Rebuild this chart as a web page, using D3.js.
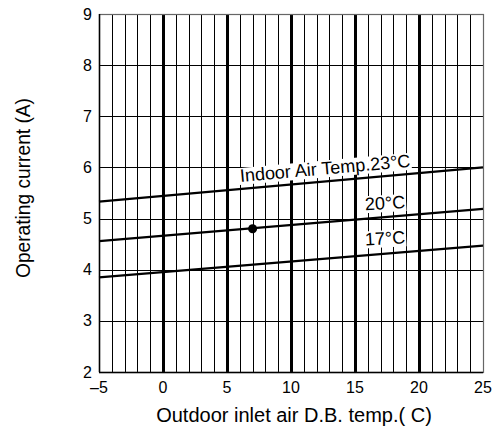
<!DOCTYPE html>
<html>
<head>
<meta charset="utf-8">
<script src="https://cdn.jsdelivr.net/npm/d3@7"></script>
<style>
  body { margin: 0; background: #fff; }
  text { font-family: "Liberation Sans", Arial, sans-serif; fill: #000; }
</style>
</head>
<body>
<svg id="chart" width="497" height="431"></svg>
<script>
// data
const xTicks = [-5, 0, 5, 10, 15, 20, 25];
const xTickLabels = ["\u20135", "0", "5", "10", "15", "20", "25"];
const yTicks = [2, 3, 4, 5, 6, 7, 8, 9];
const outdoorTemp = [-5, 25];
const current23 = [5.33, 6.0];
const current20 = [4.56, 5.19];
const current17 = [3.85, 4.47];
const seriesLabels = ["Indoor Air Temp.23\u00B0C", "20\u00B0C", "17\u00B0C"];
const labelX = [12.66, 17.34, 17.34];
const labelY = [5.99, 5.31, 4.62];
const pointX = [7];
const pointY = [4.8];

const svg = d3.select("#chart");
const margin = { left: 99, right: 14, top: 14, bottom: 59 };
const W = 497, H = 431;

const x = d3.scaleLinear().domain([-5, 25]).range([margin.left, W - margin.right]);
const y = d3.scaleLinear().domain([2, 9]).range([H - margin.bottom, margin.top]);

const g = svg.append("g");

// vertical grid, one per degree; thick every 5
g.selectAll("line.v")
  .data(d3.range(-4, 25))
  .join("line")
  .attr("x1", d => Math.round(x(d)) + 0.5)
  .attr("x2", d => Math.round(x(d)) + 0.5)
  .attr("y1", y(9))
  .attr("y2", y(2))
  .attr("stroke", "#000")
  .attr("stroke-width", d => d % 5 === 0 ? 3 : 1);

// horizontal grid
g.selectAll("line.h")
  .data(d3.range(3, 9))
  .join("line")
  .attr("x1", x(-5))
  .attr("x2", x(25))
  .attr("y1", d => Math.round(y(d)) + 0.5)
  .attr("y2", d => Math.round(y(d)) + 0.5)
  .attr("stroke", "#000")
  .attr("stroke-width", 1);

// frame: grey top/right, black bottom/left
g.append("rect")
  .attr("x", Math.round(x(-5)) + 0.5)
  .attr("y", Math.round(y(9)) + 0.5)
  .attr("width", Math.round(x(25)) - Math.round(x(-5)))
  .attr("height", Math.round(y(2)) - Math.round(y(9)))
  .attr("fill", "none")
  .attr("stroke", "#666")
  .attr("stroke-width", 1.2);
g.append("line")
  .attr("x1", x(-5)).attr("x2", x(25))
  .attr("y1", Math.round(y(2)) + 0.5).attr("y2", Math.round(y(2)) + 0.5)
  .attr("stroke", "#000").attr("stroke-width", 1.5);
g.append("line")
  .attr("x1", Math.round(x(-5)) + 0.5).attr("x2", Math.round(x(-5)) + 0.5)
  .attr("y1", y(9)).attr("y2", y(2))
  .attr("stroke", "#000").attr("stroke-width", 1.5);

// series lines
const series = [current23, current20, current17];
const line = d3.line().x((d, i) => x(outdoorTemp[i])).y(d => y(d));
g.selectAll("path.s")
  .data(series)
  .join("path")
  .attr("d", d => line(d))
  .attr("fill", "none")
  .attr("stroke", "#000")
  .attr("stroke-width", 2.2);

// labels sitting on white boxes
const angle = Math.atan2(y(current23[1]) - y(current23[0]), x(25) - x(-5)) * 180 / Math.PI;
seriesLabels.forEach((t, i) => {
  const lg = g.append("g")
    .attr("transform", `translate(${x(labelX[i])},${y(labelY[i])}) rotate(${angle * (i === 0 ? 1.0 : 0.6)})`);
  const txt = lg.append("text")
    .attr("text-anchor", "middle")
    .attr("dy", "0.36em")
    .style("font-size", "18px")
    .text(t);
  const bb = txt.node().getBBox();
  lg.insert("rect", "text")
    .attr("x", bb.x - 1)
    .attr("y", bb.y + 2)
    .attr("width", bb.width + 2)
    .attr("height", bb.height - 3)
    .attr("fill", "#fff");
});

// point
g.selectAll("circle")
  .data(pointX)
  .join("circle")
  .attr("cx", d => x(d))
  .attr("cy", (d, i) => y(pointY[i]))
  .attr("r", 4.5)
  .attr("fill", "#000");

// tick labels
g.selectAll("text.xt")
  .data(xTicks)
  .join("text")
  .attr("x", d => x(d))
  .attr("y", y(2) + 21)
  .attr("text-anchor", "middle")
  .style("font-size", "16px")
  .text((d, i) => xTickLabels[i]);

g.selectAll("text.yt")
  .data(yTicks)
  .join("text")
  .attr("x", x(-5) - 7)
  .attr("y", d => y(d))
  .attr("dy", "0.35em")
  .attr("text-anchor", "end")
  .style("font-size", "16px")
  .text(d => d);

// axis titles
svg.append("text")
  .attr("x", 294)
  .attr("y", 422)
  .attr("text-anchor", "middle")
  .style("font-size", "20px")
  .text("Outdoor inlet air D.B. temp.( C)");

svg.append("text")
  .attr("transform", `translate(30,188) rotate(-90)`)
  .attr("text-anchor", "middle")
  .attr("textLength", 180)
  .attr("lengthAdjust", "spacingAndGlyphs")
  .style("font-size", "21px")
  .text("Operating current (A)");
</script>
</body>
</html>
